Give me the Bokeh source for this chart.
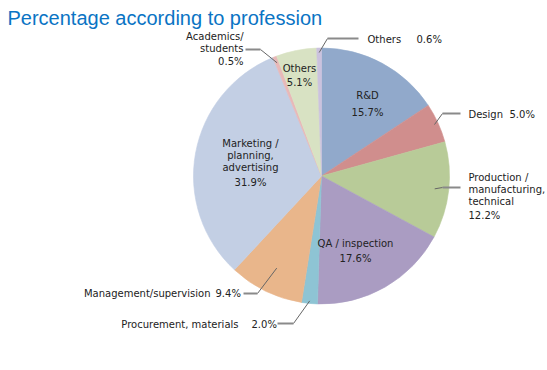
import numpy as np
from bokeh.plotting import figure
from bokeh.models import Range1d
from bokeh.core.properties import value
from bokeh.embed import file_html
from bokeh.resources import INLINE

# ---------------- data ----------------
title = "Percentage according to profession"
categories = ["R&D", "Design", "Production / manufacturing, technical", "QA / inspection",
              "Procurement, materials", "Management/supervision",
              "Marketing / planning, advertising", "Academics/ students", "Others", "Others"]
label_lines = [["R&D"], ["Design"], ["Production /", "manufacturing,", "technical"],
               ["QA / inspection"], ["Procurement, materials"], ["Management/supervision"],
               ["Marketing /", "planning,", "advertising"], ["Academics/", "students"],
               ["Others"], ["Others"]]
values = [15.7, 5.0, 12.2, 17.6, 2.0, 9.4, 31.9, 0.5, 5.1, 0.6]
colors = ["#91a9cb", "#d08e8d", "#b8cb98", "#aa9cc2", "#8ec4d4", "#e9b68b",
          "#c3cfe4", "#e8b8b8", "#d8e2c3", "#cbc2de"]

# ---------------- layout (page pixel coords) ----------------
W, H = 547, 370
def X(px):
    return px
def Y(py):
    return H - py

CX, CY, R = 321, 175.5, 128
FONT = "DejaVu Sans"
FS = "10px"
TXT = "#222222"
LEAD = "#8a8a8a"

spec = {
    0: dict(kind="in", x=367, ys=[95], py=112),
    3: dict(kind="in", x=355, ys=[243], py=258),
    6: dict(kind="in", x=250, ys=[143, 155, 167], py=182),
    8: dict(kind="in", x=299, ys=[68], py=82),
    1: dict(kind="out", x=468, align="left", ys=[114], px=509, py=114, palign="left",
            elbow=(442, 113), end=(460, 113), f=0.97),
    2: dict(kind="out", x=468, align="left", ys=[177, 189, 201], px=468, py=215, palign="left",
            elbow=(442, 187), end=(460, 187), f=0.89),
    4: dict(kind="out", x=238, align="right", ys=[324], px=251, py=324, palign="left",
            elbow=(293, 323), end=(277, 323), f=0.98),
    5: dict(kind="out", x=210, align="right", ys=[293], px=215, py=293, palign="left",
            elbow=(257, 293), end=(243, 293), f=0.80),
    7: dict(kind="out", x=243, align="right", ys=[36, 48], px=243, py=61, palign="right",
            elbow=(260, 49), end=(245, 49), f=0.95),
    9: dict(kind="out", x=367, align="left", ys=[39], px=416, py=39, palign="left",
            elbow=(327, 38), end=(358, 38), f=0.965),
}

# ---------------- figure ----------------
p = figure(width=W, height=H, output_backend="svg", toolbar_location=None,
           x_range=Range1d(0, W), y_range=Range1d(0, H), min_border=0)
p.axis.visible = False
p.grid.visible = False
p.outline_line_color = None
p.background_fill_color = "white"
p.border_fill_color = "white"

vals = np.array(values, dtype=float)
frac = vals / vals.sum()
cum_end = np.cumsum(frac)
cum_start = cum_end - frac
start_angle = np.pi / 2 - 2 * np.pi * cum_start
end_angle = np.pi / 2 - 2 * np.pi * cum_end
mid = (cum_start + cum_end) / 2

p.wedge(x=[X(CX)] * len(vals), y=[Y(CY)] * len(vals), radius=R,
        start_angle=start_angle, end_angle=end_angle, direction="clock",
        fill_color=colors, line_color=colors, line_width=0.6)

def txt(x, y, t, align):
    p.text(x=[X(x)], y=[Y(y)], text=[t], text_align=align, text_baseline="middle",
           text_font=value(FONT), text_font_size=FS, text_color=TXT)

for i, s in spec.items():
    pct = f"{values[i]:.1f}%"
    lines = label_lines[i]
    if s["kind"] == "in":
        for t, yy in zip(lines, s["ys"]):
            txt(s["x"], yy, t, "center")
        txt(s["x"], s["py"], pct, "center")
    else:
        for t, yy in zip(lines, s["ys"]):
            txt(s["x"], yy, t, s["align"])
        txt(s["px"], s["py"], pct, s["palign"])
        ang = 2 * np.pi * mid[i]
        sx = CX + s["f"] * R * np.sin(ang)
        sy = CY - s["f"] * R * np.cos(ang)
        ex, ey = s["elbow"]
        tx, ty = s["end"]
        p.line(x=[X(sx), X(ex)], y=[Y(sy), Y(ey)], line_color="#666666", line_width=1)
        p.line(x=[X(ex), X(tx)], y=[Y(ey), Y(ty)], line_color=LEAD, line_width=2)

p.text(x=[X(7)], y=[Y(17)], text=[title], text_align="left", text_baseline="alphabetic",
       text_font=value("Liberation Sans"), text_font_size="20px", text_color="#0a74c4")

open("out.html", "w").write(file_html(p, INLINE))
